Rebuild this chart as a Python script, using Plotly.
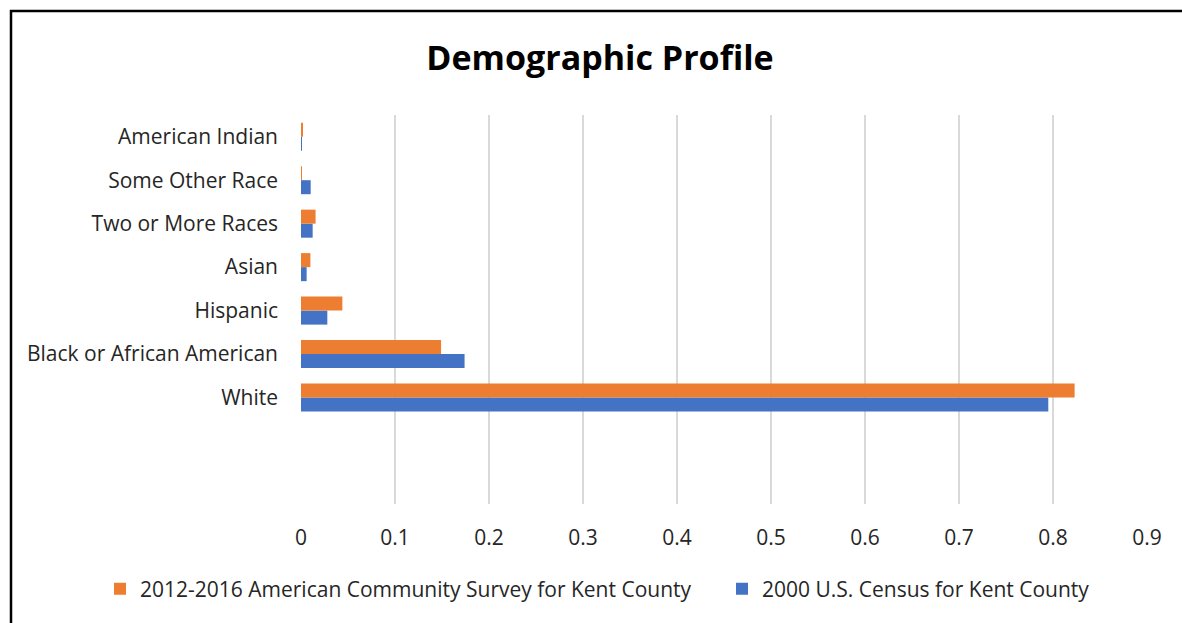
import plotly.graph_objects as go

categories = ["White", "Black or African American", "Hispanic", "Asian",
              "Two or More Races", "Some Other Race", "American Indian"]
acs_2012_2016 = [0.823, 0.149, 0.044, 0.010, 0.0155, 0.0006, 0.002]
census_2000 = [0.795, 0.174, 0.028, 0.006, 0.0124, 0.0103, 0.0009]
x_ticks = [0, 0.1, 0.2, 0.3, 0.4, 0.5, 0.6, 0.7, 0.8, 0.9]

FONT = "Open Sans"
W, H = 1182, 623
L, R, T, B = 301, 35, 115, 119
pw, ph = W - L - R, H - T - B

fig = go.Figure()
fig.add_trace(go.Bar(
    y=categories, x=census_2000, orientation="h",
    name="2000 U.S. Census for Kent County",
    marker=dict(color="#4472C4", line=dict(width=0)),
    legend="legend2",
))
fig.add_trace(go.Bar(
    y=categories, x=acs_2012_2016, orientation="h",
    name="2012-2016 American Community Survey for Kent County",
    marker=dict(color="#ED7D31", line=dict(width=0)),
    legend="legend",
))

def px_x(p):
    return (p - L) / pw

def px_y(p):
    return (H - B - p) / ph

legend_font = dict(family=FONT, size=21, color="#262626")

fig.update_layout(
    width=W, height=H,
    margin=dict(l=L, r=R, t=T, b=B, autoexpand=False),
    paper_bgcolor="white", plot_bgcolor="white",
    barmode="group", bargap=0.355, bargroupgap=0,
    font=dict(family=FONT, size=21, color="#262626"),
    title=dict(text="<b>Demographic Profile</b>", x=600 / W, xanchor="center",
               y=1 - 58 / H, yanchor="middle", yref="container",
               font=dict(family=FONT, size=34, color="#000000")),
    showlegend=True,
    legend=dict(orientation="h", x=px_x(100), xanchor="left",
                y=px_y(589), yanchor="middle", font=legend_font),
    legend2=dict(orientation="h", x=px_x(722), xanchor="left",
                 y=px_y(589), yanchor="middle", font=legend_font),
    xaxis=dict(range=[0, 0.9], tickvals=x_ticks, ticktext=[str(v) if v else "0" for v in x_ticks],
               showgrid=True, gridcolor="#D9D9D9", gridwidth=2,
               zeroline=False, showline=False, ticks="", automargin=False,
               ticklabelstandoff=19,
               tickfont=dict(family=FONT, size=21, color="#262626")),
    yaxis=dict(type="category", categoryorder="array", categoryarray=categories,
               range=[-2.45, 6.5], showgrid=False, zeroline=False, showline=False,
               ticks="", ticklabelstandoff=22, automargin=False,
               tickfont=dict(family=FONT, size=21, color="#262626")),
    shapes=[dict(type="rect", xref="paper", yref="paper",
                 x0=px_x(11), x1=px_x(W + 20), y0=px_y(H + 20), y1=px_y(11),
                 line=dict(color="black", width=2.5), fillcolor="rgba(0,0,0,0)",
                 layer="above")],
)

fig.write_html("out.html")
